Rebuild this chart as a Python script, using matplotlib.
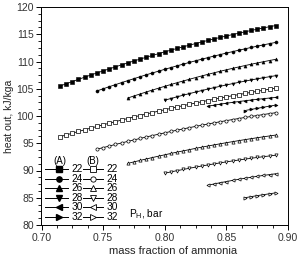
import matplotlib
matplotlib.use("Agg")
import matplotlib.pyplot as plt
from matplotlib.ticker import AutoMinorLocator

plt.rcParams['font.family'] = ['Liberation Sans', 'DejaVu Sans']

# common x grid (mass fraction of ammonia)
x_grid = [0.715, 0.720, 0.725, 0.730, 0.735, 0.740, 0.745, 0.750, 0.755, 0.760,
          0.765, 0.770, 0.775, 0.780, 0.785, 0.790, 0.795, 0.800, 0.805, 0.810,
          0.815, 0.820, 0.825, 0.830, 0.835, 0.840, 0.845, 0.850, 0.855, 0.860,
          0.865, 0.870, 0.875, 0.880, 0.885, 0.890]

pressures = [22, 24, 26, 28, 30, 32]
start_index = [0, 6, 11, 17, 24, 30]

# Series (A)
yA_22 = [105.50, 105.91, 106.32, 106.73, 107.12, 107.52, 107.90, 108.28, 108.65, 109.02,
         109.39, 109.74, 110.10, 110.44, 110.78, 111.11, 111.44, 111.77, 112.08, 112.40,
         112.70, 113.00, 113.29, 113.58, 113.87, 114.14, 114.42, 114.68, 114.94, 115.19,
         115.44, 115.69, 115.92, 116.16, 116.38, 116.60]
yA_24 = [104.60, 104.99, 105.38, 105.75, 106.13, 106.49, 106.85, 107.21, 107.56, 107.90,
         108.23, 108.57, 108.89, 109.21, 109.52, 109.83, 110.13, 110.42, 110.71, 111.00,
         111.27, 111.55, 111.81, 112.07, 112.32, 112.57, 112.81, 113.05, 113.28, 113.50]
yA_26 = [103.30, 103.68, 104.04, 104.41, 104.76, 105.11, 105.45, 105.78, 106.11, 106.43,
         106.74, 107.05, 107.35, 107.64, 107.93, 108.21, 108.48, 108.74, 109.00, 109.25,
         109.49, 109.73, 109.96, 110.18, 110.40]
yA_28 = [102.90, 103.21, 103.52, 103.82, 104.11, 104.39, 104.67, 104.94, 105.20, 105.45,
         105.70, 105.94, 106.17, 106.39, 106.61, 106.82, 107.02, 107.21, 107.40]
yA_30 = [101.80, 101.99, 102.17, 102.34, 102.50, 102.65, 102.80, 102.93, 103.06, 103.18,
         103.30, 103.40]
yA_32 = [101.00, 101.21, 101.41, 101.61, 101.81, 102.00]

# Series (B)
yB_22 = [96.20, 96.52, 96.84, 97.16, 97.47, 97.78, 98.08, 98.38, 98.68, 98.97,
         99.25, 99.54, 99.81, 100.09, 100.36, 100.63, 100.89, 101.15, 101.40, 101.65,
         101.90, 102.14, 102.38, 102.61, 102.84, 103.07, 103.29, 103.51, 103.72, 103.93,
         104.13, 104.34, 104.53, 104.73, 104.92, 105.10]
yB_24 = [93.90, 94.20, 94.49, 94.78, 95.06, 95.34, 95.61, 95.88, 96.15, 96.41,
         96.66, 96.91, 97.16, 97.40, 97.63, 97.87, 98.09, 98.31, 98.53, 98.74,
         98.95, 99.15, 99.35, 99.54, 99.73, 99.91, 100.09, 100.27, 100.44, 100.60]
yB_26 = [91.30, 91.58, 91.85, 92.11, 92.38, 92.63, 92.88, 93.13, 93.37, 93.60,
         93.83, 94.06, 94.28, 94.49, 94.70, 94.90, 95.10, 95.29, 95.48, 95.66,
         95.84, 96.01, 96.18, 96.34, 96.50]
yB_28 = [89.50, 89.74, 89.97, 90.19, 90.41, 90.62, 90.82, 91.02, 91.21, 91.40,
         91.58, 91.75, 91.92, 92.08, 92.24, 92.39, 92.53, 92.67, 92.80]
yB_30 = [87.30, 87.53, 87.76, 87.97, 88.18, 88.38, 88.57, 88.75, 88.93, 89.09,
         89.25, 89.40]
yB_32 = [85.00, 85.20, 85.39, 85.56, 85.73, 85.90]

seriesA = [yA_22, yA_24, yA_26, yA_28, yA_30, yA_32]
seriesB = [yB_22, yB_24, yB_26, yB_28, yB_30, yB_32]
markers = ['s', 'o', '^', 'v', '<', '>']

xticks = [0.70, 0.75, 0.80, 0.85, 0.90]
yticks = [80, 85, 90, 95, 100, 105, 110, 115, 120]

fig = plt.figure(figsize=(3.01, 2.58), dpi=100)
ax = fig.add_axes([41.5/301, 1-225/258, 246.5/301, 218/258])

for i, p in enumerate(pressures):
    xs = x_grid[start_index[i]:]
    ax.plot(xs, seriesA[i], color='black', lw=0.6, marker=markers[i], ms=2.2,
            mfc='black', mec='black', mew=0.4)
    ax.plot(xs, seriesB[i], color='black', lw=0.6, marker=markers[i], ms=2.3,
            mfc='white', mec='black', mew=0.5)

ax.set_xlim(0.70, 0.90)
ax.set_ylim(80, 120)
ax.set_xticks(xticks)
ax.set_xticklabels([f"{v:.2f}" for v in xticks])
ax.set_yticks(yticks)
ax.xaxis.set_minor_locator(AutoMinorLocator(4))
ax.yaxis.set_minor_locator(AutoMinorLocator(4))
ax.tick_params(which='major', direction='out', length=3.5, width=0.7,
               labelsize=7.5, pad=2, top=False, right=False, labelcolor='#333333')
ax.tick_params(which='minor', direction='out', length=2, width=0.6,
               top=False, right=False)
for s in ax.spines.values():
    s.set_linewidth(0.7)

ax.set_xlabel("mass fraction of ammonia", fontsize=8, color='#222222')
ax.set_ylabel("heat out, kJ/kga", fontsize=7.5, color='#222222')
ax.xaxis.set_label_coords(0.533, -0.095)
ax.yaxis.set_label_coords(-0.11, 0.5)

# Legend (manual, two columns)
tr = ax.transAxes
row_y = [0.2555, 0.212, 0.1685, 0.125, 0.0815, 0.038]
ax.text(0.075, 0.294, "(A)", transform=tr, fontsize=7, ha='center', va='center')
ax.text(0.210, 0.294, "(B)", transform=tr, fontsize=7, ha='center', va='center')
for i, p in enumerate(pressures):
    y = row_y[i]
    ax.plot([0.0142, 0.1087], [y, y], color='black', lw=0.7, transform=tr, clip_on=False)
    ax.plot([0.072], [y], marker=markers[i], ms=3.8, mfc='black', mec='black',
            transform=tr, clip_on=False)
    ax.text(0.1225, y, str(p), transform=tr, fontsize=7.3, ha='left', va='center')
    ax.plot([0.1696, 0.2507], [y, y], color='black', lw=0.7, transform=tr, clip_on=False)
    ax.plot([0.210], [y], marker=markers[i], ms=3.8, mfc='white', mec='black', mew=0.6,
            transform=tr, clip_on=False)
    ax.text(0.262, y, str(p), transform=tr, fontsize=7.3, ha='left', va='center')

ax.text(0.355, 0.05, r"P$_{\mathregular{H}}$, bar", transform=tr, fontsize=7.3,
        ha='left', va='center')

fig.savefig("out.png", dpi=100)
